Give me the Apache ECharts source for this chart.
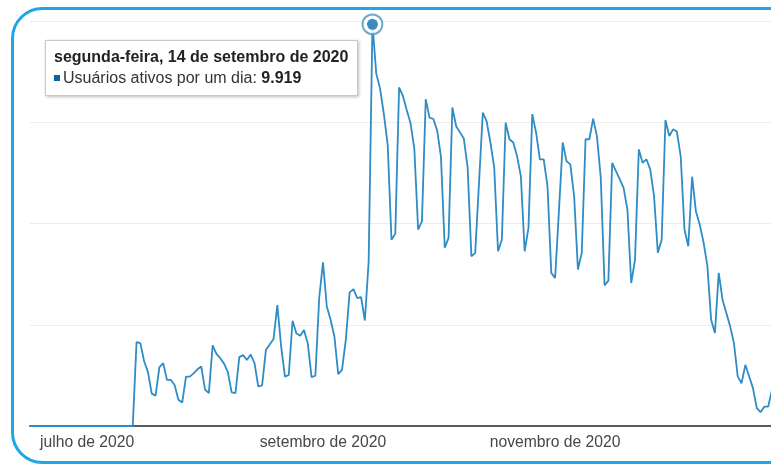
<!DOCTYPE html>
<html>
<head>
<meta charset="utf-8">
<script src="https://cdn.jsdelivr.net/npm/echarts@6/dist/echarts.min.js"></script>
<style>
html,body{margin:0;padding:0;background:#fff;}
#chart{width:771px;height:465px;}
</style>
</head>
<body>
<div id="chart"></div>
<script>
// ---- DATA ----
const startDate = '2020-06-16';
// daily "Usuários ativos por um dia", 16 Jun 2020 .. 28 Dec 2020
const values = [
  0,0,0,0,0,0,0,0,0,0,0,0,0,0,0,0,0,0,0,0,0,0,0,0,0,0,0,0,
  2070,2045,1600,1330,800,750,
  1450,1550,1140,1140,1010,650,580,
  1220,1220,1300,1400,1470,900,810,
  1990,1780,1675,1540,1330,830,810,
  1700,1750,1630,1765,1550,975,1005,
  1880,2010,2150,2985,1965,1220,1260,
  2600,2290,2230,2370,2040,1205,1240,
  3160,4040,2950,2625,2210,1280,1385,
  2130,3300,3380,3160,3185,2605,4060,
  9919,8700,8330,7700,6950,4600,4750,
  8360,8150,7800,7480,6850,4850,5050,
  8070,7615,7580,7300,6650,4400,4645,
  7865,7400,7250,7100,6400,4190,4275,
  6000,7740,7530,7000,6380,4315,4600,
  7490,7080,7000,6665,6170,4315,4890,
  7700,7245,6585,6585,5920,3780,3655,
  5300,7000,6540,6460,5675,3860,4275,
  7080,7080,7590,7150,6130,3470,3590,
  6500,6295,6090,5880,5345,3530,4110,
  6830,6500,6585,6335,5675,4275,4600,
  7555,7160,7325,7270,6665,4850,4440,
  6155,5305,4975,4540,3965,2625,2295,
  3780,3120,2790,2460,2045,1220,1055,
  1510,1220,935,440,340,480,480,
  890
];
const tickDates = ['2020-07-01', '2020-09-01', '2020-11-01'];
const tickLabels = ['julho de 2020', 'setembro de 2020', 'novembro de 2020'];
const highlightDate = '2020-09-14';
const seriesName = 'Usuários ativos por um dia';
const weekdays = ['domingo','segunda-feira','terça-feira','quarta-feira','quinta-feira','sexta-feira','sábado'];
const months = ['janeiro','fevereiro','março','abril','maio','junho','julho','agosto','setembro','outubro','novembro','dezembro'];

// ---- build categories ----
const categories = [];
(function(){
  const d0 = new Date(startDate + 'T00:00:00Z');
  for (let i = 0; i < values.length; i++) {
    const d = new Date(d0.getTime() + i * 86400000);
    categories.push(d.toISOString().slice(0, 10));
  }
})();
const hi = categories.indexOf(highlightDate);

function fmtNum(v){ return String(v).replace(/\B(?=(\d{3})+(?!\d))/g, '.'); }
function fmtDate(s){
  const d = new Date(s + 'T00:00:00Z');
  return weekdays[d.getUTCDay()] + ', ' + d.getUTCDate() + ' de ' + months[d.getUTCMonth()] + ' de ' + d.getUTCFullYear();
}

const FONT = '"Liberation Sans", Arial, sans-serif';
const CSSFONT = "'Liberation Sans', Arial, sans-serif";
const chart = echarts.init(document.getElementById('chart'), null, {renderer: 'canvas'});
chart.setOption({
  animation: false,
  backgroundColor: '#fff',
  grid: {left: 30, right: -1, top: 21, bottom: 39, containLabel: false, outerBoundsMode: 'none'},
  tooltip: {
    trigger: 'axis',
    axisPointer: {type: 'none'},
    alwaysShowContent: true,
    transitionDuration: 0,
    showDelay: 0,
    position: function(){ return [45, 40]; },
    backgroundColor: '#fff',
    borderColor: '#c8c8c8',
    borderWidth: 1,
    padding: [5, 9, 7, 8],
    extraCssText: 'box-shadow:1px 1px 3px rgba(0,0,0,0.25);border-radius:0;',
    formatter: function(params){
      const p = params.filter(q => q.seriesIndex === 0)[0] || params[0];
      const cat = categories[p.dataIndex];
      return '<div style="font-family:' + CSSFONT + ';font-size:16px;line-height:21px;color:#222;font-weight:bold">' + fmtDate(cat) + '</div>' +
        '<div style="font-family:' + CSSFONT + ';font-size:16px;line-height:21px;color:#333">' +
        '<span style="display:inline-block;width:6px;height:6px;background:#0d64a0;margin-right:3px;vertical-align:2px"></span>' +
        seriesName + ': <b style="color:#222">' + fmtNum(values[p.dataIndex]) + '</b></div>';
    }
  },
  xAxis: {
    type: 'category',
    data: categories,
    boundaryGap: false,
    axisTick: {show: false},
    axisLine: {show: true, lineStyle: {color: '#5a5a5a', width: 2}},
    splitLine: {show: false},
    axisLabel: {
      interval: 0,
      formatter: function(val){ const k = tickDates.indexOf(val); return k >= 0 ? tickLabels[k] : ''; },
      showMinLabel: false,
      showMaxLabel: false,
      hideOverlap: false,
      color: '#474747',
      fontFamily: FONT,
      fontSize: 15.7,
      margin: 9
    }
  },
  yAxis: {
    type: 'value',
    min: 0,
    max: 10000,
    interval: 2500,
    axisLine: {show: false},
    axisTick: {show: false},
    axisLabel: {show: false},
    splitLine: {show: true, lineStyle: {color: '#ececec', width: 1}}
  },
  series: [
    {
      type: 'line',
      name: seriesName,
      data: values,
      symbol: 'none',
      lineStyle: {color: '#2a80b4', width: 1.8},
      itemStyle: {color: '#2a80b4'},
      z: 5
    },
    {
      type: 'scatter',
      data: [
        {value: [categories[hi], values[hi]], symbolSize: 18, itemStyle: {color: '#fff', borderColor: '#4a93c2', borderWidth: 2}},
        {value: [categories[hi], values[hi]], symbolSize: 10, itemStyle: {color: '#0d64a0'}}
      ],
      silent: true,
      clip: true,
      z: 6
    }
  ],
  graphic: [
    {
      type: 'rect',
      shape: {x: 12.5, y: 8.5, width: 820, height: 454, r: 30},
      style: {fill: 'none', stroke: '#1fa6e6', lineWidth: 3},
      silent: true,
      z: 100
    }
  ]
});
chart.dispatchAction({type: 'showTip', seriesIndex: 0, dataIndex: hi});
</script>
</body>
</html>
